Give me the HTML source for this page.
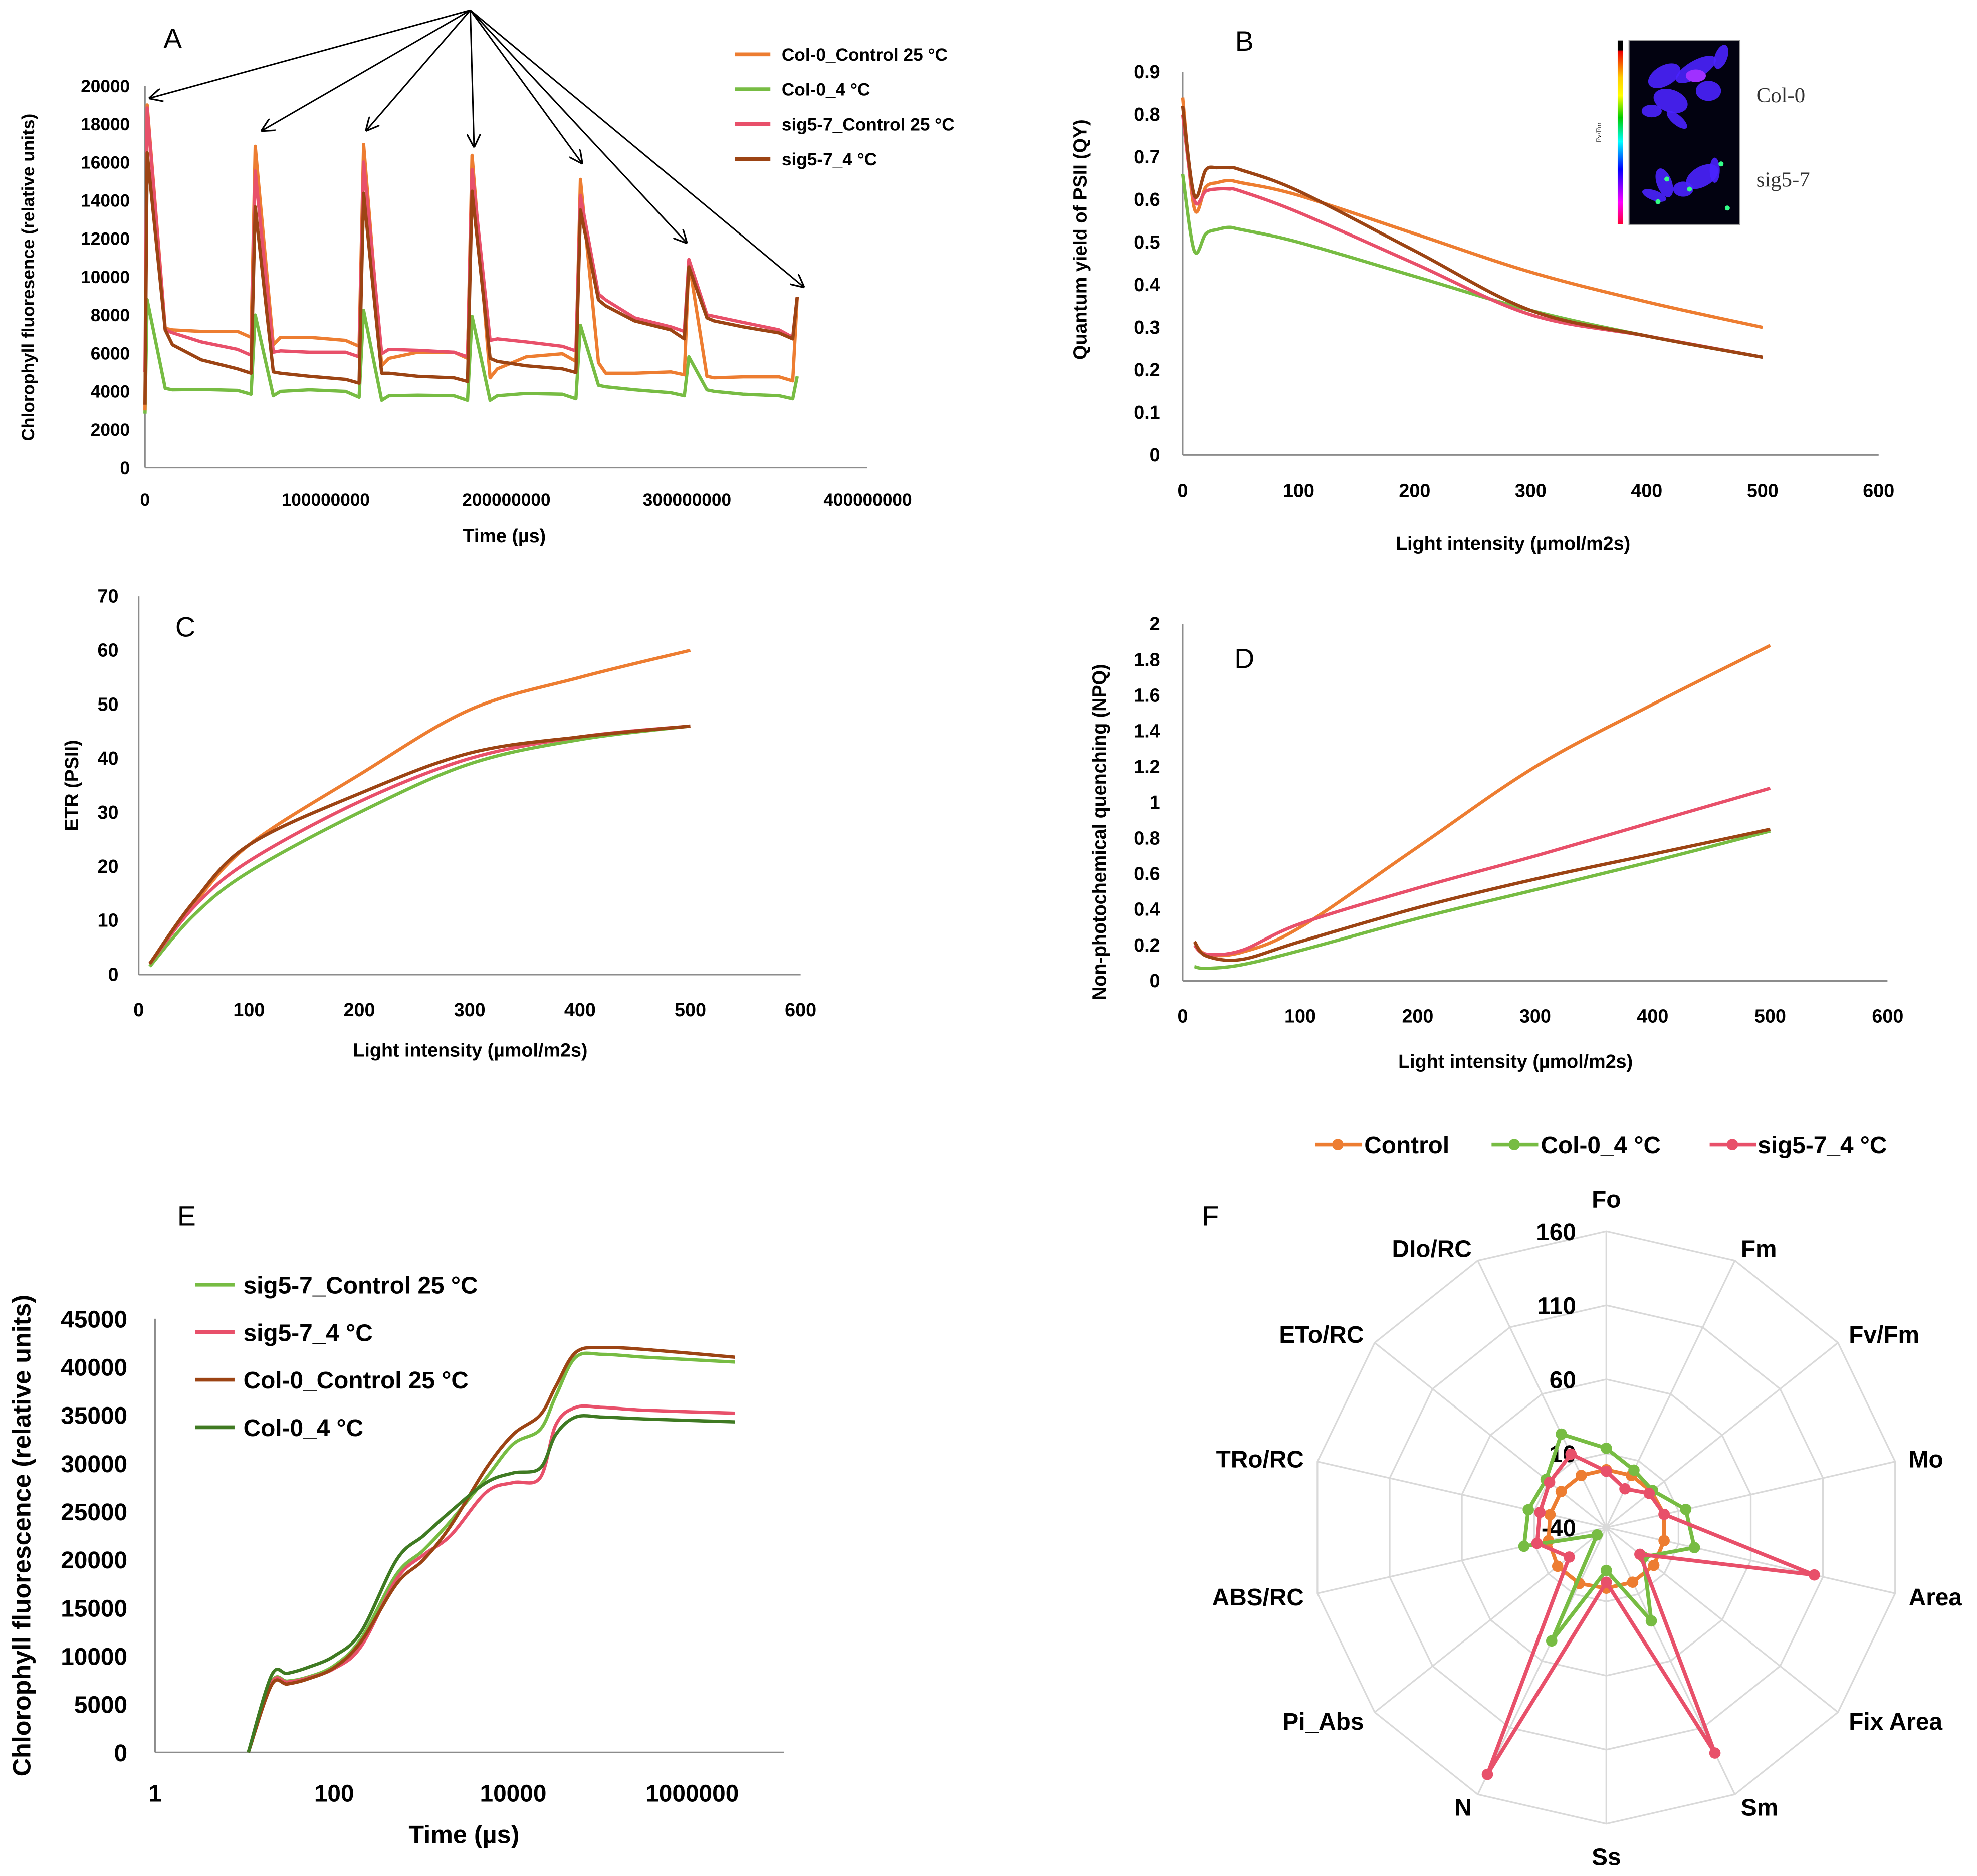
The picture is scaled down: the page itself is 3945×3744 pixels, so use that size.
<!DOCTYPE html>
<html><head><meta charset="utf-8"><style>
html,body{margin:0;padding:0;background:#fff;}
svg{display:block;font-family:"Liberation Sans",sans-serif;}
</style></head><body>
<svg id="fig" xmlns="http://www.w3.org/2000/svg" width="3945" height="3744" viewBox="0 0 1568 1488">
<defs>
<linearGradient id="cbar" x1="0" y1="0" x2="0" y2="1">
<stop offset="0" stop-color="#000"/><stop offset="0.05" stop-color="#000"/><stop offset="0.06" stop-color="#e00"/><stop offset="0.2" stop-color="#fc0"/><stop offset="0.3" stop-color="#ff0"/><stop offset="0.42" stop-color="#0c0"/><stop offset="0.55" stop-color="#0ff"/><stop offset="0.7" stop-color="#00f"/><stop offset="0.88" stop-color="#f0f"/><stop offset="1" stop-color="#f03"/>
</linearGradient>
<marker id="ah" viewBox="0 0 10 10" refX="10" refY="5" markerWidth="9" markerHeight="9" orient="auto-start-reverse"><path d="M0,0 L10,5 L0,10" fill="none" stroke="#000" stroke-width="1.2"/></marker>
</defs>
</svg>
<script>
// ---------- DATA ----------
// Panel A (time in 1e6 µs); per cycle: peak, knee(+10), m1(+14), m2(+30), m3(+50), pre(+57)
const aCycleStarts=[1.2,61,121,181,241,301];
const aFinalT=361;
const aSeriesNames=["Col-0_Control 25 °C","Col-0_4 °C","sig5-7_Control 25 °C","sig5-7_4 °C"];
const aStart=[3000,2830,5000,3300];
const aPeaks=[[19000,16830,16930,16360,15100,10830],[8800,8000,8240,7930,7460,5810],[18840,15540,16010,15620,14260,10910],[16490,13660,14370,14480,13500,10520]];
const aKnee=[[7300,6440,5340,4710,5500,4790],[4160,3770,3530,3530,4320,4080],[7220,6050,5970,6670,9100,8010],[7220,5020,4950,5730,8790,7850]];
const aM1=[[7220,6830,5730,5180,4950,4710],[4080,4000,3770,3770,4240,4000],[7070,6120,6200,6750,8790,7930],[6440,4950,4950,5570,8480,7690]];
const aM2=[[7140,6830,6050,5810,4950,4760],[4100,4080,3800,3890,4080,3850],[6590,6050,6150,6590,7850,7610],[5650,4790,4790,5340,7690,7380]];
const aM3=[[7140,6670,6050,5970,5020,4760],[4050,4000,3770,3850,3930,3770],[6200,6050,6050,6360,7380,7220],[5180,4630,4710,5180,7220,7060]];
const aPre=[[6830,6360,5730,5570,4870,4550],[3850,3690,3530,3610,3770,3610],[5890,5810,5810,6120,7140,6830],[4950,4430,4520,4990,6750,6750]];
const aFinal=[8950,4790,8950,8950];
const aYTicks=[0,2000,4000,6000,8000,10000,12000,14000,16000,18000,20000];
const aXTicks=["0","100000000","200000000","300000000","400000000"];
// Panel B
const bX=[0,10,20,30,40,50,100,200,300,400,500];
const bOrange=[0.84,0.58,0.63,0.64,0.645,0.64,0.61,0.52,0.43,0.36,0.30];
const bGreen=[0.66,0.48,0.52,0.53,0.535,0.53,0.50,0.42,0.34,0.28,0.23];
const bPink=[0.80,0.60,0.62,0.625,0.625,0.62,0.57,0.45,0.33,0.28,0.23];
const bBrown=[0.82,0.61,0.67,0.675,0.675,0.67,0.62,0.48,0.34,0.28,0.23];
const bYTicks=["0","0.1","0.2","0.3","0.4","0.5","0.6","0.7","0.8","0.9"];
const lightTicks=[0,100,200,300,400,500,600];
// Panel C
const cX=[10,50,100,200,300,400,500];
const cOrange=[2,13,24,37,49,55,60];
const cGreen=[1.5,11,19,30,39,43.5,46];
const cPink=[2,12.5,21,32,40,44,46];
const cBrown=[2,13.5,24,33.5,41,44,46];
const cYTicks=[0,10,20,30,40,50,60,70];
// Panel D
const dX=[10,20,50,100,200,300,400,500];
const dOrange=[0.22,0.15,0.16,0.30,0.75,1.20,1.55,1.88];
const dGreen=[0.08,0.07,0.09,0.17,0.35,0.51,0.67,0.84];
const dPink=[0.20,0.15,0.17,0.32,0.52,0.70,0.89,1.08];
const dBrown=[0.22,0.14,0.12,0.22,0.41,0.57,0.71,0.85];
const dYTicks=["0","0.2","0.4","0.6","0.8","1","1.2","1.4","1.6","1.8","2"];
// Panel E
const eX=[11,20,30,50,100,200,500,1000,2000,5000,10000,20000,30000,50000,100000,300000,3000000];
const eSig5Ctrl=[0,7300,7400,7800,9000,11800,18500,21000,24000,28500,32000,33500,37000,41000,41300,41000,40500];
const eSig5Cold=[0,7200,7300,7700,8700,11000,18000,20500,22500,27000,28000,28500,34000,35800,35800,35500,35200];
const eColCtrl=[0,7000,7100,7600,8800,11500,17500,20000,23500,29500,33000,35000,38000,41500,42000,41800,41000];
const eColCold=[0,8000,8200,8800,10000,12500,20000,22500,25000,28000,29000,29500,33000,34800,34800,34600,34300];
const eYTicks=[0,5000,10000,15000,20000,25000,30000,35000,40000,45000];
const eXTicks=[1,100,10000,1000000];
// Panel F
const fAxes=["Fo","Fm","Fv/Fm","Mo","Area","Fix Area","Sm","Ss","N","Pi_Abs","ABS/RC","TRo/RC","ETo/RC","DIo/RC"];
const fControl=[-1,-1,-1,0,0,1,1,1,2,2,0,-1,-1,-1];
const fCol4=[13.5,3,0,15,21,-8,30,-11,45,-32,17,14,12,30];
const fSig4=[-2,-11,-3,0,104,-11,129,-3,145,-8,8,6,9,15];
const fRings=[-40,10,60,110,160];

// ---------- HELPERS ----------
const NS='http://www.w3.org/2000/svg';
const svg=document.getElementById('fig');
const OR='#ed7d31',GR='#77bc43',PK='#e8506a',BR='#9c4414',DG='#3f7a22',AX='#8c8c8c';
function mk(tag,attrs,parent){const e=document.createElementNS(NS,tag);for(const k in attrs)e.setAttribute(k,attrs[k]);(parent||svg).appendChild(e);return e;}
function txt(x,y,s,o){o=o||{};const e=mk('text',{x:x,y:y,'font-size':o.fs||14,'font-weight':o.fw||'bold','text-anchor':o.a||'middle',fill:o.fill||'#000'});if(o.rot)e.setAttribute('transform','rotate(-90 '+x+' '+y+')');if(o.ff)e.setAttribute('font-family',o.ff);e.textContent=s;return e;}
function smooth(pts){let d='M'+pts[0][0]+','+pts[0][1];for(let i=0;i<pts.length-1;i++){const p0=pts[Math.max(0,i-1)],p1=pts[i],p2=pts[i+1],p3=pts[Math.min(pts.length-1,i+2)];const c1=[p1[0]+(p2[0]-p0[0])/6,p1[1]+(p2[1]-p0[1])/6],c2=[p2[0]-(p3[0]-p1[0])/6,p2[1]-(p3[1]-p1[1])/6];d+=' C'+c1[0]+','+c1[1]+' '+c2[0]+','+c2[1]+' '+p2[0]+','+p2[1];}return d;}
function axes(x0,x1,y0,y1,name){
  const g=mk('g',{});
  
  
  mk('line',{x1:x0,y1:y1,x2:x0,y2:y0,stroke:AX,'stroke-width':1.2},g);
  mk('line',{x1:x0,y1:y0,x2:x1,y2:y0,stroke:AX,'stroke-width':1.2},g);
  return g;
}

// ---------- PANEL A ----------
(function(){
const X=t=>115+t*1.433, Y=v=>371-v*(303/20000);
axes(115,688,371,68,'panel-a');
aYTicks.forEach(v=>{const t=txt(103,Y(v)+5,String(v),{a:'end'});});
aXTicks.forEach((s,i)=>{const t=txt(X(i*100),401,s);});
const yt=txt(27,220,'Chlorophyll fluoresence (relative units)',{rot:1});


const xt=txt(400,430,'Time (µs)',{fs:15});


const lab=txt(137,38,'A',{fs:22,fw:'normal'});


const cols=[OR,GR,PK,BR];
const order=[1,0,2,3];
order.forEach(s=>{
  const pts=[[X(0),Y(aStart[s])]];
  aCycleStarts.forEach((c,i)=>{
    pts.push([X(c),Y(aPeaks[s][i])]);
    pts.push([X(c+10),Y(aKnee[s][i])]);
    pts.push([X(c+14),Y(aM1[s][i])]);
    pts.push([X(c+30),Y(aM2[s][i])]);
    pts.push([X(c+50),Y(aM3[s][i])]);
    pts.push([X(c+57.5),Y(aPre[s][i])]);
  });
  pts.push([X(aFinalT),Y(aFinal[s])]);
  const p=mk('polyline',{points:pts.map(q=>q.join(',')).join(' '),fill:'none',stroke:cols[s],'stroke-width':2.6,'stroke-linejoin':'round'});
  
  
});
for(let s=0;s<4;s++){
  const ly=43+s*27.7;
  const ll=mk('line',{x1:583,y1:ly,x2:611,y2:ly,stroke:cols[s],'stroke-width':3});
  
  
  const lt=txt(620,ly+5,aSeriesNames[s],{a:'start'});
  
  
}
const targets=[[118,78],[207,104],[290,104],[376,117],[462,130],[545,193],[638,228]];
targets.forEach(t=>{const a=mk('line',{x1:373,y1:8,x2:t[0],y2:t[1],stroke:'#000','stroke-width':1.2,'marker-end':'url(#ah)'});});
})();

// ---------- PANEL B ----------
(function(){
const X=v=>938+v*0.92, Y=v=>361-v*(304/0.9);
axes(938,1490,361,57,'panel-b');
bYTicks.forEach((s,i)=>{const t=txt(920,Y(i*0.1)+5,s,{a:'end',fs:15});});
lightTicks.forEach(v=>{const t=txt(X(v),394,String(v),{fs:15});});
const yt=txt(862,190,'Quantum yield of PSII (QY)',{rot:1,fs:15});


const xt=txt(1200,436,'Light intensity (µmol/m2s)',{fs:15});


const lab=txt(987,40,'B',{fs:22,fw:'normal'});


[[bOrange,OR],[bGreen,GR],[bPink,PK],[bBrown,BR]].forEach((s,i)=>{
  const p=mk('path',{d:smooth(bX.map((x,j)=>[X(x),Y(s[0][j])])),fill:'none',stroke:s[1],'stroke-width':2.6});
  
  
});
const ig=mk('g',{});


mk('rect',{x:1283,y:32,width:4,height:146,fill:'url(#cbar)'},ig);
mk('rect',{x:1292,y:32,width:88,height:146,fill:'#020210',stroke:'#999','stroke-width':0.8},ig);
[[1320,60,14,8,-30],[1345,55,18,7,-30],[1325,80,14,9,20],[1355,72,10,8,0],[1310,88,8,5,0],[1330,95,10,4,40],[1365,45,5,10,20],[1320,145,6,12,-20],[1350,140,14,8,-30],[1335,150,8,6,0],[1312,155,10,4,20],[1360,135,4,10,0]].forEach(b=>{
  mk('ellipse',{cx:b[0],cy:b[1],rx:b[2],ry:b[3],fill:'#4a22ff',opacity:0.9,transform:'rotate('+b[4]+' '+b[0]+' '+b[1]+')'},ig);
});
[[1322,142],[1340,150],[1365,130],[1315,160],[1370,165]].forEach(c=>mk('circle',{cx:c[0],cy:c[1],r:2,fill:'#3f8'},ig));
mk('ellipse',{cx:1345,cy:60,rx:8,ry:5,fill:'#a030ff'},ig);
const ft=txt(1270,105,'Fv/Fm',{rot:1,fs:6,fw:'normal',ff:'Liberation Serif'});


const c1=txt(1393,81,'Col-0',{a:'start',fs:17,fw:'normal',ff:'Liberation Serif',fill:'#333'});


const c2=txt(1393,148,'sig5-7',{a:'start',fs:17,fw:'normal',ff:'Liberation Serif',fill:'#333'});


})();

// ---------- PANEL C ----------
(function(){
const X=v=>110+v*0.875, Y=v=>773-v*(300/70);
axes(110,635,773,473,'panel-c');
cYTicks.forEach(v=>{const t=txt(94,Y(v)+5,String(v),{a:'end',fs:15});});
lightTicks.forEach(v=>{const t=txt(X(v),806,String(v),{fs:15});});
const yt=txt(62,623,'ETR (PSII)',{rot:1,fs:15});


const xt=txt(373,838,'Light intensity (µmol/m2s)',{fs:15});


const lab=txt(147,505,'C',{fs:22,fw:'normal'});


[[cOrange,OR],[cGreen,GR],[cPink,PK],[cBrown,BR]].forEach((s,i)=>{
  const p=mk('path',{d:smooth(cX.map((x,j)=>[X(x),Y(s[0][j])])),fill:'none',stroke:s[1],'stroke-width':2.6});
  
  
});
})();

// ---------- PANEL D ----------
(function(){
const X=v=>938+v*0.932, Y=v=>778-v*141.5;
axes(938,1497,778,495,'panel-d');
dYTicks.forEach((s,i)=>{const t=txt(920,Y(i*0.2)+5,s,{a:'end',fs:15});});
lightTicks.forEach(v=>{const t=txt(X(v),811,String(v),{fs:15});});
const yt=txt(877,660,'Non-photochemical quenching (NPQ)',{rot:1,fs:15});


const xt=txt(1202,847,'Light intensity (µmol/m2s)',{fs:15});


const lab=txt(987,530,'D',{fs:22,fw:'normal'});


[[dOrange,OR],[dGreen,GR],[dPink,PK],[dBrown,BR]].forEach((s,i)=>{
  const p=mk('path',{d:smooth(dX.map((x,j)=>[X(x),Y(s[0][j])])),fill:'none',stroke:s[1],'stroke-width':2.6});
  
  
});
})();

// ---------- PANEL E ----------
(function(){
const X=v=>123+Math.log10(v)*71, Y=v=>1390-v*(344/45000);
axes(123,622,1390,1046,'panel-e');
eYTicks.forEach(v=>{const t=txt(101,Y(v)+7,String(v),{a:'end',fs:19});});
eXTicks.forEach(v=>{const t=txt(X(v),1429,String(v),{fs:19});});
const yt=txt(24,1218,'Chlorophyll fluorescence (relative units)',{rot:1,fs:20});


const xt=txt(368,1462,'Time (µs)',{fs:20});


const lab=txt(148,972,'E',{fs:22,fw:'normal'});


const ser=[[eSig5Ctrl,GR,'sig5-7_Control 25 °C'],[eSig5Cold,PK,'sig5-7_4 °C'],[eColCtrl,BR,'Col-0_Control 25 °C'],[eColCold,DG,'Col-0_4 °C']];
ser.forEach((s,i)=>{
  const p=mk('path',{d:smooth(eX.map((x,j)=>[X(x),Y(s[0][j])])),fill:'none',stroke:s[1],'stroke-width':2.6});
  
  
  const ly=1019+i*37.7;
  const ll=mk('line',{x1:155,y1:ly,x2:186,y2:ly,stroke:s[1],'stroke-width':3});
  
  
  const lt=txt(193,ly+7,s[2],{a:'start',fs:19});
  
  
});
})();

// ---------- PANEL F ----------
(function(){
const cx=1274,cy=1211.6,R=235,mn=-40,mx=160,n=fAxes.length;
const pt=(i,v)=>{const a=i*2*Math.PI/n,r=(v-mn)/(mx-mn)*R;return [cx+r*Math.sin(a),cy-r*Math.cos(a)];};
fRings.forEach(v=>{
  const pts=fAxes.map((_,i)=>pt(i,v).join(',')).join(' ');
  const p=mk('polygon',{points:pts,fill:'none',stroke:'#d9d9d9','stroke-width':1.3});
  
  
});
fAxes.forEach((s,i)=>{
  const e=pt(i,mx);
  const l=mk('line',{x1:cx,y1:cy,x2:e[0],y2:e[1],stroke:'#d9d9d9','stroke-width':1.3});
  
  
  const a=i*2*Math.PI/n,sn=Math.sin(a),cs=Math.cos(a);
  let anc='middle',r=261;
  if(sn>0.1){anc='start';r=246;}else if(sn<-0.1){anc='end';r=246;}
  const lx=cx+r*sn,ly=cy-r*cs+7;
  const t=txt(lx,ly,s,{fs:19,a:anc});
  
  
});
fRings.forEach(v=>{const p=pt(0,v);const t=txt(p[0]-24,p[1]+7,String(v),{a:'end',fs:19});});
const ser=[[fControl,OR,'Control'],[fCol4,GR,'Col-0_4 °C'],[fSig4,PK,'sig5-7_4 °C']];
ser.forEach((s,k)=>{
  const pts=s[0].map((v,i)=>pt(i,v));
  const p=mk('polygon',{points:pts.map(q=>q.join(',')).join(' '),fill:'none',stroke:s[1],'stroke-width':3,'stroke-linejoin':'round'});
  
  
  pts.forEach(q=>{const c=mk('circle',{cx:q[0],cy:q[1],r:4.5,fill:s[1]});});
});
const legX=[1043,1183,1356],legT=[1082,1222,1394];
ser.forEach((s,k)=>{
  const ll=mk('line',{x1:legX[k],y1:908,x2:legX[k]+37,y2:908,stroke:s[1],'stroke-width':3});
  
  
  const c=mk('circle',{cx:legX[k]+18,cy:908,r:4.5,fill:s[1]});
  
  
  const t=txt(legT[k],915,s[2],{a:'start',fs:19});
  
  
});
const lab=txt(960,972,'F',{fs:22,fw:'normal'});


})();
</script>
</body></html>
